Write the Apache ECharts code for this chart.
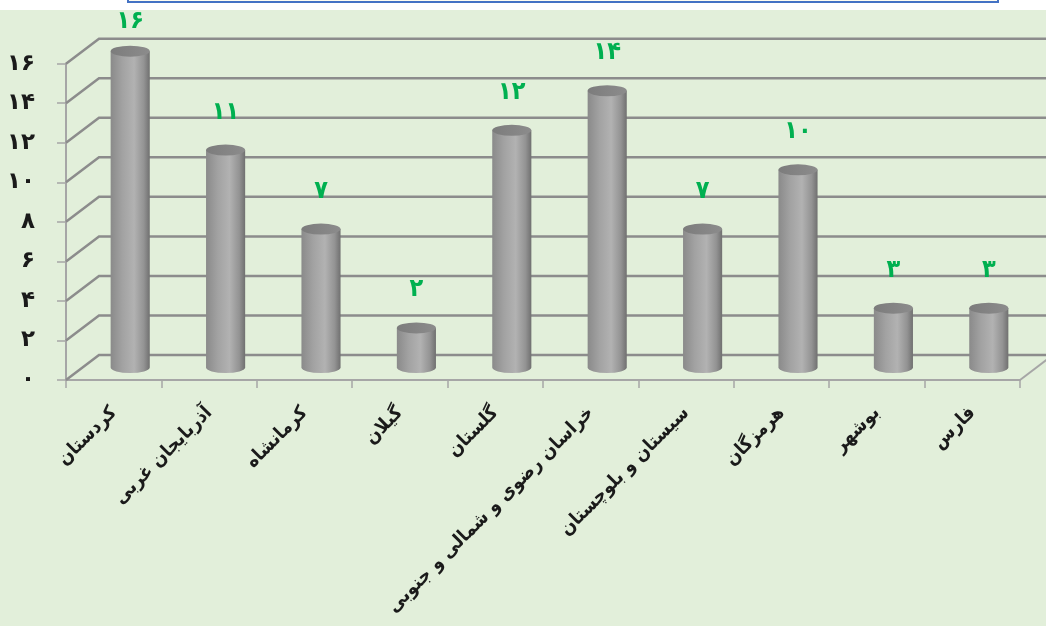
<!DOCTYPE html>
<html><head><meta charset="utf-8">
<script src="https://cdn.jsdelivr.net/npm/echarts@6/dist/echarts.min.js"></script>
<style>html,body{margin:0;padding:0;background:#fff}#c{width:1046px;height:626px}</style>
</head><body><div id="c"></div>
<script>
const categories = ['کردستان','آذربایجان غربی','کرمانشاه','گیلان','گلستان','خراسان رضوی و شمالی و جنوبی','سیستان و بلوچستان','هرمزگان','بوشهر','فارس'];
const values = [16, 11, 7, 2, 12, 14, 7, 10, 3, 3];
const yTicks = [0, 2, 4, 6, 8, 10, 12, 14, 16];

const fa = n => String(n).replace(/\d/g, d => '۰۱۲۳۴۵۶۷۸۹'[d]);
const DX = 33, DY = -25;
const FONT = '"DejaVu Sans", sans-serif';
const FONT_C = '"DejaVu Sans Condensed", "DejaVu Sans", sans-serif';

const chart = echarts.init(document.getElementById('c'), null, {renderer: 'canvas'});
chart.setOption({
  backgroundColor: '#ffffff',
  animation: false,
  graphic: [
    {type: 'rect', z: -10, shape: {x: 0, y: 10, width: 1046, height: 616}, style: {fill: '#E2EFDA'}},
    {type: 'rect', z: -9, shape: {x: 128, y: -20, width: 870, height: 22}, style: {fill: '#FFFDF0', stroke: '#4472C4', lineWidth: 2}}
  ],
  grid: {left: 66, right: 26, top: 63.7, bottom: 246, containLabel: false, outerBoundsMode: 'none'},
  xAxis: {
    type: 'category', data: categories, boundaryGap: true,
    axisLine: {lineStyle: {color: '#A6A6A6', width: 2}},
    axisTick: {show: true, length: 8, lineStyle: {color: '#A6A6A6', width: 1.5}},
    axisLabel: {rotate: 45, margin: 30, interval: 0, color: '#1a1a1a', fontFamily: FONT_C, fontWeight: 'bold', fontSize: 19}
  },
  yAxis: {
    type: 'value', min: 0, max: 16, interval: 2,
    axisLine: {show: true, lineStyle: {color: '#A6A6A6', width: 2}},
    axisTick: {show: true, length: 9, lineStyle: {color: '#A6A6A6', width: 1.5}},
    splitLine: {show: false},
    axisLabel: {margin: 31, formatter: v => fa(v), color: '#1a1a1a', fontFamily: FONT, fontWeight: 'bold', fontSize: 23}
  },
  series: [
    {
      type: 'custom', z: 1, silent: true,
      data: yTicks.map(v => [0, v]),
      renderItem(params, api) {
        const cs = params.coordSys;
        const v = api.value(1);
        const y = api.coord([0, v])[1];
        const x0 = cs.x, x1 = cs.x + cs.width;
        const children = [
          {type: 'polyline', shape: {points: [[x0, y], [x0 + DX, y + DY], [x1 + DX, y + DY]]},
           style: {stroke: '#8C8C8C', lineWidth: 2.5, fill: null}}
        ];
        if (v === 0) children.push({type: 'line', shape: {x1: x1, y1: y, x2: x1 + DX, y2: y + DY},
          style: {stroke: '#A6A6A6', lineWidth: 2}});
        return {type: 'group', children};
      }
    },
    {
      type: 'custom', z: 3, silent: true,
      data: values.map((v, i) => [i, v]),
      renderItem(params, api) {
        const i = api.value(0), v = api.value(1);
        const b = api.coord([i, 0]), t = api.coord([i, v]);
        const band = api.size([1, 0])[0];
        const rx = band * 0.205, ry = 5.5;
        const cx = b[0] + DX / 2, yb = b[1] + DY / 2, yt = t[1] + DY / 2;
        const l = cx - rx, r = cx + rx;
        const body = `M${l} ${yt} L${l} ${yb} A${rx} ${ry} 0 0 0 ${r} ${yb} L${r} ${yt} Z`;
        const top = `M${l} ${yt} A${rx} ${ry} 0 1 1 ${r} ${yt} A${rx} ${ry} 0 1 1 ${l} ${yt} Z`;
        return {type: 'group', children: [
          {type: 'path', shape: {pathData: body}, style: {fill: {type: 'linear', x: 0, y: 0, x2: 1, y2: 0,
            colorStops: [{offset: 0, color: '#8a8a8a'}, {offset: 0.3, color: '#a2a2a2'}, {offset: 0.6, color: '#b2b2b2'}, {offset: 0.85, color: '#939393'}, {offset: 1, color: '#707070'}]}}},
          {type: 'path', shape: {pathData: top}, style: {fill: {type: 'linear', x: 0, y: 0, x2: 1, y2: 0,
            colorStops: [{offset: 0, color: '#7c7c7c'}, {offset: 1, color: '#8c8c8c'}]}}},
          {type: 'text', x: cx, y: Math.max(yt - 38, 21), style: {text: fa(v), fill: '#00B050', fontFamily: FONT_C,
            fontWeight: 'bold', fontSize: 25, align: 'center', verticalAlign: 'middle'}}
        ]};
      }
    }
  ]
});
</script>
</body></html>
